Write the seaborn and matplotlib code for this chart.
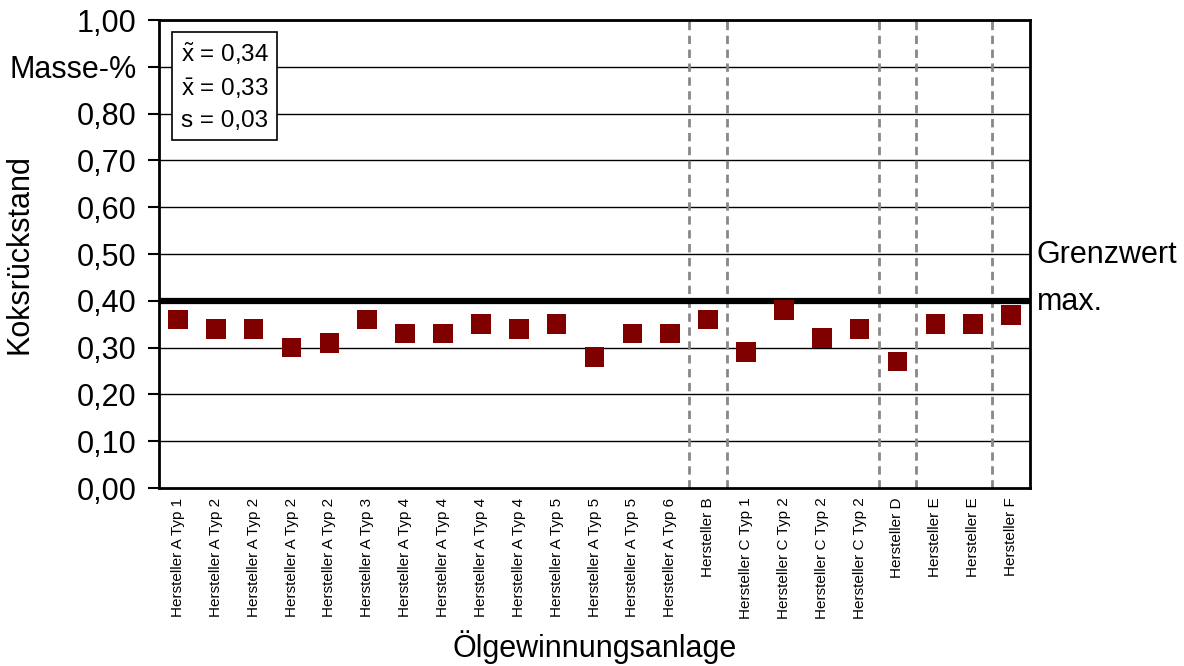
import matplotlib
matplotlib.use("Agg")
import matplotlib.pyplot as plt
import seaborn as sns
import numpy as np
import pandas as pd

# categories (x axis) and coke residue values in mass-%
labels = [
    "Hersteller A Typ 1", "Hersteller A Typ 2", "Hersteller A Typ 2", "Hersteller A Typ 2",
    "Hersteller A Typ 2", "Hersteller A Typ 3", "Hersteller A Typ 4", "Hersteller A Typ 4",
    "Hersteller A Typ 4", "Hersteller A Typ 4", "Hersteller A Typ 5", "Hersteller A Typ 5",
    "Hersteller A Typ 5", "Hersteller A Typ 6", "Hersteller B", "Hersteller C Typ 1",
    "Hersteller C Typ 2", "Hersteller C Typ 2", "Hersteller C Typ 2", "Hersteller D",
    "Hersteller E", "Hersteller E", "Hersteller F",
]
values = [
    0.36, 0.34, 0.34, 0.30, 0.31, 0.36, 0.33, 0.33, 0.35, 0.34, 0.35, 0.28,
    0.33, 0.33, 0.36, 0.29, 0.38, 0.32, 0.34, 0.27, 0.35, 0.35, 0.37,
]
# group boundaries (between manufacturers)
separators = [13.5, 14.5, 18.5, 19.5, 21.5]
grenzwert = 0.40
y_ticks = [0.0, 0.1, 0.2, 0.3, 0.4, 0.5, 0.6, 0.7, 0.8, 0.9, 1.0]
y_ticklabels = ["0,00", "0,10", "0,20", "0,30", "0,40", "0,50", "0,60", "0,70", "0,80", "Masse-%", "1,00"]
stats_text = "$\\tilde{\\mathrm{x}}$ = 0,34\n$\\bar{\\mathrm{x}}$ = 0,33\ns = 0,03"

sns.set_style("white")
plt.rcParams["font.family"] = ["Liberation Sans", "DejaVu Sans"]
plt.rcParams["mathtext.fontset"] = "custom"
plt.rcParams["mathtext.rm"] = "Liberation Sans"
plt.rcParams["mathtext.it"] = "Liberation Sans:italic"
plt.rcParams["text.color"] = "black"
plt.rcParams["axes.labelcolor"] = "black"
plt.rcParams["xtick.color"] = "black"
plt.rcParams["ytick.color"] = "black"

df = pd.DataFrame({"pos": np.arange(len(values)), "wert": values})

fig = plt.figure(figsize=(11.84, 6.66), dpi=100)
ax = fig.add_axes([159 / 1184, 1 - 488 / 666, 871 / 1184, 468 / 666])

# horizontal grid
for y in y_ticks[1:]:
    ax.axhline(y, color="black", lw=1.0, zorder=1)
ax.axhline(grenzwert, color="black", lw=4.5, zorder=2)

for xs in separators:
    ax.axvline(xs, color="#888888", lw=2, ls=(0, (3, 2)), zorder=1)

sns.scatterplot(data=df, x="pos", y="wert", marker="s", s=200, color="#800000",
                edgecolor="none", ax=ax, zorder=3, legend=False)

ax.set_xlim(-0.5, len(values) - 0.5)
ax.set_ylim(0, 1.0)
ax.set_yticks(y_ticks)
ax.set_yticklabels(y_ticklabels, fontsize=22)
ax.set_xticks(np.arange(len(values)))
ax.set_xticklabels(labels, rotation=90, fontsize=11)
ax.set_xticks(separators, minor=True)
ax.tick_params(axis="x", which="major", length=0, pad=7)
ax.tick_params(axis="x", which="minor", length=5, width=2, color="#888888", direction="out")
ax.tick_params(axis="y", length=8, width=1.5, direction="out", pad=8, left=True)

for sp in ax.spines.values():
    sp.set_visible(True)
    sp.set_color("black")
    sp.set_linewidth(2)

ax.set_ylabel("Koksrückstand", fontsize=22)
ax.yaxis.set_label_coords(-124 / 871, 0.5)
ax.set_xlabel("Ölgewinnungsanlage", fontsize=22)
ax.xaxis.set_label_coords(0.5, -142 / 468)

ax.text(0.0247, 0.956, stats_text, transform=ax.transAxes, fontsize=17.5, va="top", ha="left",
        linespacing=1.5,
        bbox=dict(boxstyle="square,pad=0.35", facecolor="white", edgecolor="black", lw=1.2),
        zorder=5)

ax.text(1.008, 0.481, "Grenzwert", transform=ax.transAxes, fontsize=22, va="baseline", ha="left")
ax.text(1.008, 0.380, "max.", transform=ax.transAxes, fontsize=22, va="baseline", ha="left")

fig.savefig("out.png", dpi=100)
